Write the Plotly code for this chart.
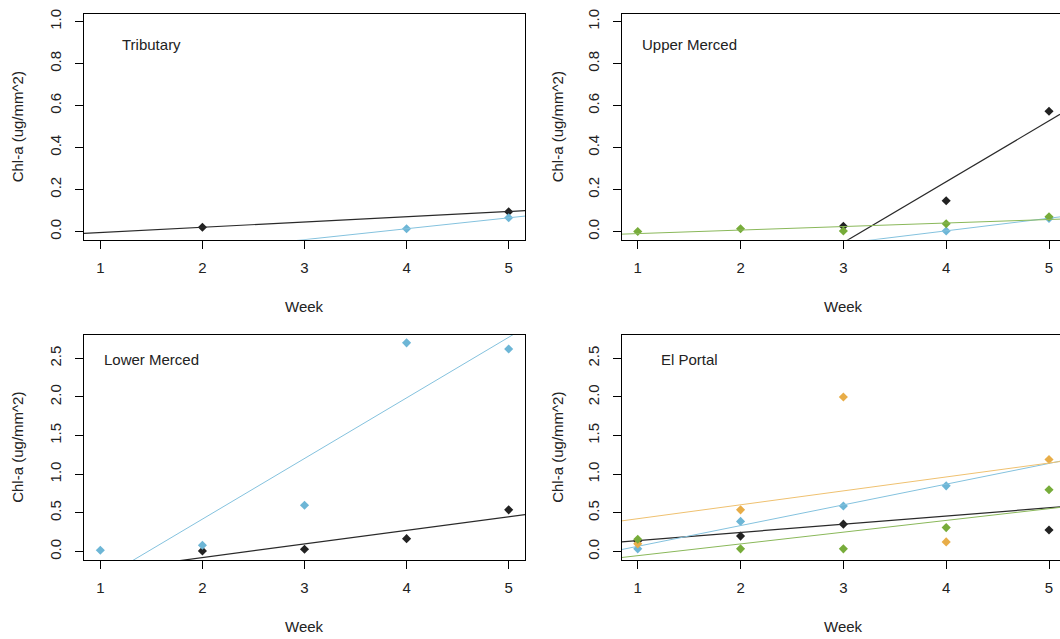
import numpy as np
import plotly.graph_objects as go

weeks = [1, 2, 3, 4, 5]

# ---- Tributary ----
trib_black = [None, 0.020, None, None, 0.094]
trib_blue = [None, None, None, 0.013, 0.065]
trib_slopes = [0.025, 0.052]
trib_intercepts = [-0.030, -0.195]

# ---- Upper Merced ----
upper_black = [None, None, 0.025, 0.146, 0.573]
upper_blue = [None, None, None, 0.002, 0.062]
upper_green = [0.000, 0.013, 0.002, 0.037, 0.070]
upper_slopes = [0.290, 0.060, 0.0168]
upper_intercepts = [-0.923, -0.237, -0.027]

# ---- Lower Merced ----
lower_black = [None, 0.009, 0.030, 0.167, 0.540]
lower_blue = [0.018, 0.082, 0.600, 2.700, 2.620]
lower_slopes = [0.176, 0.784]
lower_intercepts = [-0.430, -1.148]

# ---- El Portal ----
elp_black = [0.137, 0.200, 0.355, None, 0.280]
elp_blue = [0.035, 0.390, 0.590, 0.850, None]
elp_orange = [0.100, 0.540, 2.000, 0.125, 1.190]
elp_green = [0.160, 0.035, 0.035, 0.310, 0.800]
elp_slopes = [0.106, 0.268, 0.180, 0.152]
elp_intercepts = [0.036, -0.200, 0.245, -0.205]

panel_names = ["Tributary", "Upper Merced", "Lower Merced", "El Portal"]

PT = {"black": "#222222", "blue": "#6DB6D6", "green": "#77AC3A", "orange": "#E8AD48"}
LN = {"black": "#2a2a2a", "blue": "#84C2DE", "green": "#8AB85A", "orange": "#EFC170"}
LW = {"black": 1.2, "blue": 1.0, "green": 1.0, "orange": 1.0}

panels = [
    dict(ax=1, series=[("black", trib_black), ("blue", trib_blue)],
         slopes=trib_slopes, intercepts=trib_intercepts),
    dict(ax=2, series=[("black", upper_black), ("blue", upper_blue), ("green", upper_green)],
         slopes=upper_slopes, intercepts=upper_intercepts),
    dict(ax=3, series=[("black", lower_black), ("blue", lower_blue)],
         slopes=lower_slopes, intercepts=lower_intercepts),
    dict(ax=4, series=[("black", elp_black), ("blue", elp_blue), ("orange", elp_orange), ("green", elp_green)],
         slopes=elp_slopes, intercepts=elp_intercepts),
]

W, H = 1060, 639
xr_left = [0.84, 5.16]
xr_right = [0.844, 5.107]
yr_top = [-0.04, 1.035]
yr_bot = [-0.108, 2.80]

def px(x):
    return x / W

def py(y):
    return 1 - y / H

dom = {
    1: ([px(84), px(525)], [py(236.7), py(9.3)], xr_left, yr_top),
    2: ([px(621.7), 1.0], [py(236.7), py(9.3)], xr_right, yr_top),
    3: ([px(84), px(525)], [py(559.3), py(332.7)], xr_left, yr_bot),
    4: ([px(621.7), 1.0], [py(559.3), py(332.7)], xr_right, yr_bot),
}

fig = go.Figure()
FONT = "Arial, Liberation Sans, sans-serif"
TXT = "#222222"

for p in panels:
    k = p["ax"]
    xa = "x" if k == 1 else f"x{k}"
    ya = "y" if k == 1 else f"y{k}"
    xr = dom[k][2]
    for (col, vals), b, a in zip(p["series"], p["slopes"], p["intercepts"]):
        xs = [w for w, v in zip(weeks, vals) if v is not None]
        ys = [v for v in vals if v is not None]
        fig.add_trace(go.Scatter(x=xs, y=ys, mode="markers", xaxis=xa, yaxis=ya,
                                 marker=dict(symbol="diamond", size=7, color=PT[col]),
                                 showlegend=False, cliponaxis=True))
        lx = np.array(xr)
        fig.add_trace(go.Scatter(x=lx, y=a + b * lx, mode="lines", xaxis=xa, yaxis=ya,
                                 line=dict(color=LN[col], width=LW[col]),
                                 showlegend=False))

layout = dict(width=W, height=H, margin=dict(l=0, r=0, t=0, b=0),
              paper_bgcolor="white", plot_bgcolor="white",
              font=dict(family=FONT, size=15, color=TXT))

annotations = []
for k in range(1, 5):
    xd, yd, xr, yr = dom[k]
    left = k in (1, 3)
    top = k in (1, 2)
    xkey = "xaxis" if k == 1 else f"xaxis{k}"
    ykey = "yaxis" if k == 1 else f"yaxis{k}"
    ya = "y" if k == 1 else f"y{k}"
    xa = "x" if k == 1 else f"x{k}"
    layout[xkey] = dict(domain=xd, range=xr, anchor=ya, tickvals=weeks,
                        ticks="outside", ticklen=8, tickcolor="black", tickwidth=1,
                        showline=True, linecolor="black", linewidth=1.2, mirror=True,
                        showgrid=False, zeroline=False, ticklabelstandoff=6,
                        tickfont=dict(size=15, color=TXT, family=FONT))
    yt = [0, 0.2, 0.4, 0.6, 0.8, 1.0] if top else [0, 0.5, 1.0, 1.5, 2.0, 2.5]
    layout[ykey] = dict(domain=yd, range=yr, anchor=xa, tickvals=yt, tickformat=".1f",
                        ticks="outside", ticklen=8, tickcolor="black", tickwidth=1,
                        showline=True, linecolor="black", linewidth=1.2, mirror=left,
                        showgrid=False, zeroline=False, tickangle=-90, ticklabelstandoff=8,
                        tickfont=dict(size=15, color=TXT, family=FONT))
    annotations.append(dict(text="Week", xref=xa, x=3, yref="paper",
                            y=py(304) if top else py(626), showarrow=False,
                            xanchor="center", yanchor="middle",
                            font=dict(size=15, color=TXT, family=FONT)))
    annotations.append(dict(text="Chl-a (ug/mm^2)", xref="paper",
                            x=px(17.3) if left else px(557.3),
                            yref=f"{ya} domain", y=0.5, textangle=-90, showarrow=False,
                            xanchor="center", yanchor="middle",
                            font=dict(size=15, color=TXT, family=FONT)))
    annotations.append(dict(text=panel_names[k - 1], xref=xa, x=1.5, yref=ya,
                            y=0.89 if top else 2.48, showarrow=False,
                            xanchor="center", yanchor="middle",
                            font=dict(size=15, color=TXT, family=FONT)))

layout["annotations"] = annotations
fig.update_layout(**layout)
fig.write_html("out.html", config={"displayModeBar": False},
               post_script="document.body.style.margin='0px';document.body.style.overflow='hidden';")
